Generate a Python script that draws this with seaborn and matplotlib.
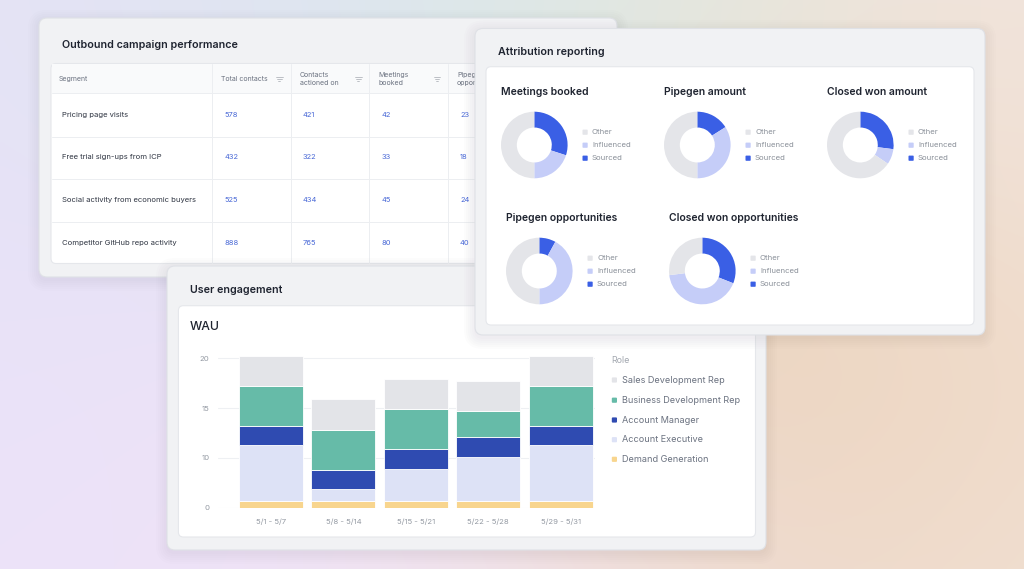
import numpy as np
import matplotlib
matplotlib.use("Agg")
import matplotlib.pyplot as plt
import matplotlib.colors as mcolors
from matplotlib.patches import FancyBboxPatch, Rectangle
import seaborn as sns

sns.set_theme(style="white")
plt.rcParams['font.family'] = ['Inter', 'DejaVu Sans']

W, H = 1024, 569

# --- table data (Outbound campaign performance)
segments = ["Pricing page visits", "Free trial sign-ups from ICP",
            "Social activity from economic buyers", "Competitor GitHub repo activity"]
col_headers = ["Segment", "Total contacts", "Contacts\nactioned on", "Meetings\nbooked", "Pipegen\nopportunities"]
total_contacts = [578, 432, 525, 888]
contacts_actioned = [421, 322, 434, 765]
meetings_booked = [42, 33, 45, 80]
pipegen_opps = [23, 18, 24, 40]

# --- attribution donuts (percent shares)
donut_titles = ["Meetings booked", "Pipegen amount", "Closed won amount",
                "Pipegen opportunities", "Closed won opportunities"]
sourced = [30, 16, 27, 8, 31]
influenced = [20, 34, 7.5, 42, 42]
other = [50, 50, 65.5, 50, 27]
attr_labels = ["Other", "Influenced", "Sourced"]

# --- WAU stacked bars
weeks = ["5/1 - 5/7", "5/8 - 5/14", "5/15 - 5/21", "5/22 - 5/28", "5/29 - 5/31"]
roles = ["Sales Development Rep", "Business Development Rep", "Account Manager",
         "Account Executive", "Demand Generation"]
sdr = [4.05, 4.1, 4.06, 4.06, 4.05]
bdr = [5.4, 5.35, 5.37, 3.52, 5.4]
account_mgr = [2.5, 2.55, 2.58, 2.59, 2.5]
account_exec = [7.46, 1.6, 4.28, 5.89, 7.46]
demand_gen = [0.94, 0.94, 0.94, 0.94, 0.94]
ytick_pos = [0, 20 / 3, 40 / 3, 20]
ytick_lab = ["0", "10", "15", "20"]

role_colors = ["#e3e4e8", "#66bba8", "#2f4bb1", "#dde2f6", "#f8d58e"]
attr_colors = {"Sourced": "#3a5fe5", "Influenced": "#c5cdf8", "Other": "#e4e5e9"}

DARK = "#1f2430"
GREY = "#6b7280"
LIGHT = "#949aa3"
BLUE_NUM = "#4767d6"

fig = plt.figure(figsize=(W / 100, H / 100), dpi=100)
bg = fig.add_axes([0, 0, 1, 1])
bg.set_xlim(0, W)
bg.set_ylim(H, 0)
bg.axis('off')

# soft pastel background
anchors = [(0, 0, '#e6e3f6'), (220, 0, '#dfe5f1'), (540, 0, '#dae8ee'),
           (690, 5, '#e2e9db'), (860, 5, '#f0e3d9'), (1024, 0, '#f3e5df'),
           (1024, 220, '#f1dfd2'), (790, 380, '#eacdaf'), (920, 480, '#eed8c4'),
           (1024, 569, '#f2e3d8'), (0, 330, '#e8e2f8'), (0, 569, '#ece2f9'),
           (180, 569, '#efe2f8'), (470, 569, '#f0e3ef'), (720, 569, '#f0e0dc')]
gx, gy = np.meshgrid(np.linspace(0, W, 256), np.linspace(0, H, 144))
acc = np.zeros(gx.shape + (3,))
wsum = np.zeros(gx.shape)
for axx, ayy, c in anchors:
    w = np.exp(-((gx - axx) ** 2 + (gy - ayy) ** 2) / (2 * 160 ** 2))
    acc += w[..., None] * np.array(mcolors.to_rgb(c))
    wsum += w
bg.imshow(acc / wsum[..., None], extent=(0, W, H, 0), interpolation='bilinear',
          aspect='auto', zorder=0)


def card(x0, y0, x1, y1, z, fc="#f1f2f4", ec="#dfe1e6", r=8, shadow=True):
    if shadow:
        for k in range(6):
            p = 1 + k * 2.0
            bg.add_patch(FancyBboxPatch((x0 - p, y0 - p + 3), x1 - x0 + 2 * p, y1 - y0 + 2 * p,
                                        boxstyle=f"round,pad=0,rounding_size={r + p}",
                                        fc="#4a4450", ec="none", alpha=0.012, zorder=z))
    bg.add_patch(FancyBboxPatch((x0, y0), x1 - x0, y1 - y0,
                                boxstyle=f"round,pad=0,rounding_size={r}",
                                fc=fc, ec=ec, lw=0.8, zorder=z + 0.1))


def inner(x0, y0, x1, y1, z):
    bg.add_patch(FancyBboxPatch((x0, y0), x1 - x0, y1 - y0,
                                boxstyle="round,pad=0,rounding_size=5",
                                fc="white", ec="#e5e7eb", lw=0.8, zorder=z))


# ---------------- card 1: outbound table
card(39, 18, 617, 277, 1)
bg.text(62, 45, "Outbound campaign performance", fontsize=7.7, fontweight='semibold',
        color=DARK, va='center', zorder=3)
inner(51, 63.5, 640, 263.5, 2)
bg.add_patch(Rectangle((51.5, 64), 590, 28.7, fc="#f9fafb", ec="none", zorder=2.1))
col_x = [51, 212, 290.7, 369.3, 448.3]
row_y = [92.7, 136.7, 179.3, 221.7]
for x in col_x[1:]:
    bg.plot([x, x], [64, 263], color="#eceef1", lw=0.7, zorder=2.2)
for y in row_y:
    bg.plot([51.5, 640], [y, y], color="#eceef1", lw=0.7, zorder=2.2)
hdr_x = [59, 221, 300, 378.7, 457]
for j, (hx, lab) in enumerate(zip(hdr_x, col_headers)):
    bg.text(hx, 78.7, lab, fontsize=5.0, color=GREY, va='center', ha='left',
            linespacing=1.45, zorder=3)
for ix in [279.3, 358.3, 436.7, 515]:
    for k, half in enumerate([3.2, 2.2, 1.0]):
        bg.plot([ix - half, ix + half], [76.8 + k * 2, 76.8 + k * 2], color="#a3a8b0", lw=0.5, zorder=3)
row_c = [115, 157.3, 200, 243]
num_x = [224.3, 303, 381.3, 460]
for i, seg in enumerate(segments):
    bg.text(62, row_c[i], seg, fontsize=5.5, color="#2f3542", va='center', zorder=3)
    vals = [total_contacts[i], contacts_actioned[i], meetings_booked[i], pipegen_opps[i]]
    for nx, v in zip(num_x, vals):
        bg.text(nx, row_c[i], str(v), fontsize=5.4, color=BLUE_NUM, va='center', zorder=3)

# ---------------- card 3: user engagement
card(167, 266, 766, 550, 5)
bg.text(190, 290.3, "User engagement", fontsize=7.7, fontweight='semibold',
        color=DARK, va='center', zorder=7)
inner(178.4, 305.7, 755.5, 537, 6)
bg.text(190, 327, "WAU", fontsize=8.8, fontweight='medium', color=DARK, va='center', zorder=7)
bg.text(611, 360, "Role", fontsize=6.4, color="#a3a8b0", va='center', zorder=7)
leg_y = [380, 400.2, 420, 439.7, 459.3]
for y, lab, col in zip(leg_y, roles, role_colors):
    bg.add_patch(FancyBboxPatch((611.8, y - 2.6), 5.2, 5.2, boxstyle="round,pad=0,rounding_size=1",
                                fc=col, ec="none", zorder=7))
    bg.text(621.6, y, lab, fontsize=6.55, color=GREY, va='center', zorder=7)

# ---------------- card 2: attribution reporting
card(475, 28.5, 985, 335, 9)
bg.text(498, 52, "Attribution reporting", fontsize=7.7, fontweight='semibold',
        color=DARK, va='center', zorder=11)
inner(486, 66.7, 974, 325, 10)
centers = [(534.3, 145), (697.3, 145), (860.3, 145), (539.3, 271), (702.3, 271)]
title_pos = [(501, 92.3), (664, 92.3), (827.3, 92.3), (506, 218.3), (669.3, 218.3)]
R = 33.3
for i, ((cx, cy), (tx, ty)) in enumerate(zip(centers, title_pos)):
    bg.text(tx, ty, donut_titles[i], fontsize=7.5, fontweight='semibold', color=DARK,
            va='center', zorder=11)
    box = 36
    axd = fig.add_axes([(cx - box) / W, 1 - (cy + box) / H, 2 * box / W, 2 * box / H])
    axd.pie([sourced[i], influenced[i], other[i]],
            colors=[attr_colors["Sourced"], attr_colors["Influenced"], attr_colors["Other"]],
            startangle=90, counterclock=False, radius=1,
            wedgeprops=dict(width=0.475, edgecolor='none'))
    axd.set_xlim(-box / R, box / R)
    axd.set_ylim(-box / R, box / R)
    axd.set_aspect('equal')
    for k, lab in enumerate(attr_labels):
        ly = cy - 12.8 + k * 13
        bg.add_patch(FancyBboxPatch((cx + 48.2, ly - 2.6), 5.2, 5.2,
                                    boxstyle="round,pad=0,rounding_size=0.8",
                                    fc=attr_colors[lab], ec="none", zorder=11))
        bg.text(cx + 57.7, ly, lab, fontsize=5.6, color="#8a9099", va='center', zorder=11)

# ---------------- WAU bar chart axes
y0_px, unit = 507.7, 7.47
ytop = 20.5
ax = fig.add_axes([217.8 / W, 1 - y0_px / H, (594.8 - 217.8) / W, ytop * unit / H])
ax.set_facecolor('none')
x = np.arange(len(weeks))
stack = [demand_gen, account_exec, account_mgr, bdr, sdr]
stack_cols = role_colors[::-1]
bottom = np.zeros(len(weeks))
for vals, col in zip(stack, stack_cols):
    ax.bar(x, vals, bottom=bottom, width=0.88, color=col, edgecolor='white', linewidth=0.6, zorder=3)
    bottom += np.array(vals)
ax.set_xlim(-0.732, 4.468)
ax.set_ylim(0, ytop)
ax.set_yticks(ytick_pos)
ax.set_yticklabels(ytick_lab)
ax.set_xticks(x)
ax.set_xticklabels(weeks)
ax.yaxis.grid(True, color="#eef0f3", lw=0.8)
ax.xaxis.grid(False)
ax.set_axisbelow(True)
for s in ax.spines.values():
    s.set_visible(False)
ax.tick_params(axis='both', length=0, labelsize=5.6, labelcolor=LIGHT)
ax.tick_params(axis='x', pad=8)
ax.tick_params(axis='y', pad=6)

fig.savefig("out.png", dpi=100)
